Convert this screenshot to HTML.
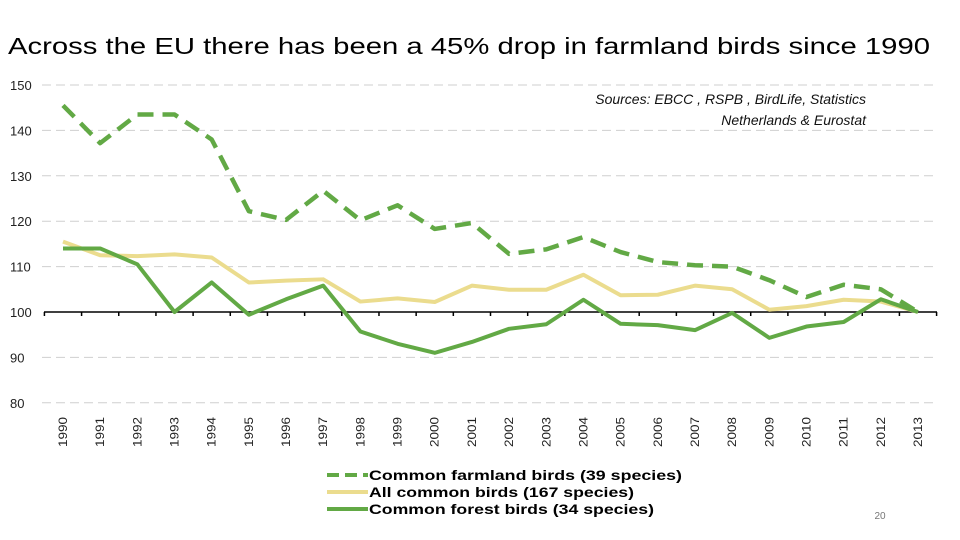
<!DOCTYPE html>
<html><head><meta charset="utf-8"><style>
body{margin:0;background:#fff;width:960px;height:540px;overflow:hidden}
svg{display:block}
</style></head><body>
<svg id="chart" width="960" height="540" xmlns="http://www.w3.org/2000/svg">
<text x="8" y="54" font-family="Liberation Sans, sans-serif" font-size="23" textLength="922" lengthAdjust="spacingAndGlyphs" fill="#000">Across the EU there has been a 45% drop in farmland birds since 1990</text>
<g id="grid"></g><g id="yticks"></g><g id="xticks"></g><g id="series"></g>
<text x="866" y="104" text-anchor="end" font-family="Liberation Sans, sans-serif" font-style="italic" font-size="14" fill="#111">Sources: EBCC , RSPB , BirdLife, Statistics</text>
<text x="866" y="125" text-anchor="end" font-family="Liberation Sans, sans-serif" font-style="italic" font-size="14" fill="#111">Netherlands &amp; Eurostat</text>
<g>
<line x1="327" y1="475" x2="368" y2="475" stroke="#62a945" stroke-width="4" stroke-dasharray="12,6"/>
<text x="369" y="480" font-family="Liberation Sans, sans-serif" font-weight="bold" font-size="14" textLength="313" lengthAdjust="spacingAndGlyphs">Common farmland birds (39 species)</text>
<line x1="327" y1="492" x2="368" y2="492" stroke="#ebdc8e" stroke-width="4"/>
<text x="369" y="497" font-family="Liberation Sans, sans-serif" font-weight="bold" font-size="14" textLength="265" lengthAdjust="spacingAndGlyphs">All common birds (167 species)</text>
<line x1="327" y1="509" x2="368" y2="509" stroke="#62a945" stroke-width="4"/>
<text x="369" y="514" font-family="Liberation Sans, sans-serif" font-weight="bold" font-size="14" textLength="285" lengthAdjust="spacingAndGlyphs">Common forest birds (34 species)</text>
</g>
<text x="880" y="519" text-anchor="middle" font-family="Liberation Sans, sans-serif" font-size="10" fill="#777">20</text>
</svg>
<script>
const years=[1990,1991,1992,1993,1994,1995,1996,1997,1998,1999,2000,2001,2002,2003,2004,2005,2006,2007,2008,2009,2010,2011,2012,2013];
const farmland=[145.5,137.2,143.5,143.5,138,122.2,120.3,126.7,120.2,123.5,118.3,119.6,112.8,113.8,116.5,113.2,111,110.3,110,107,103.3,106,105,100];
const allBirds=[115.5,112.5,112.3,112.7,112,106.5,106.9,107.2,102.3,103,102.2,105.8,104.9,104.9,108.2,103.7,103.8,105.8,105,100.5,101.3,102.7,102.3,100];
const forest=[114,114,110.5,100,106.5,99.4,102.8,105.8,95.7,93,91,93.4,96.3,97.3,102.7,97.4,97.1,96,99.8,94.3,96.8,97.8,102.8,100];
const yTicks=[80,90,100,110,120,130,140,150];
const NS='http://www.w3.org/2000/svg';
const y=v=>312-(v-100)*4.54;
const x=i=>63+i*(918-63)/(years.length-1);
const step=(918-63)/(years.length-1);
function mk(tag,attrs,parent){const e=document.createElementNS(NS,tag);for(const k in attrs)e.setAttribute(k,attrs[k]);document.getElementById(parent).appendChild(e);return e;}
yTicks.forEach(v=>{
 if(v!==100){const l=mk('line',{x1:42,x2:936,y1:y(v),y2:y(v),stroke:'#cfcfcf','stroke-width':1,'stroke-dasharray':'9,5'},'grid');
 
 }
 const t=mk('text',{x:10,y:y(v)+5,'font-family':'Liberation Sans, sans-serif','font-size':13,fill:'#222'},'yticks');
 t.textContent=v;
 
 
});
const ax=mk('line',{x1:44,x2:937,y1:y(100),y2:y(100),stroke:'#000','stroke-width':1.5},'grid');


for(let i=0;i<=years.length;i++){const tx=x(i)-step/2;
 const tk=mk('line',{x1:tx,x2:tx,y1:y(100),y2:y(100)+4,stroke:'#000','stroke-width':1.5},'grid');
 
 }
years.forEach((yr,i)=>{
 const t=mk('text',{transform:`translate(${x(i)+4},447) rotate(-90)`,'font-family':'Liberation Sans, sans-serif','font-size':12,textLength:30,lengthAdjust:'spacingAndGlyphs',fill:'#222'},'xticks');
 t.textContent=yr;
 
 
});
function line(data,color,dash,name){
 const p=mk('polyline',{points:data.map((v,i)=>x(i)+','+y(v)).join(' '),fill:'none',stroke:color,'stroke-width':dash?4.5:4,'stroke-linejoin':'round'},'series');
 if(dash)p.setAttribute('stroke-dasharray',dash);
 
 
}
line(allBirds,'#ebdc8e',null,'line-all-common-birds');
line(forest,'#62a945',null,'line-common-forest-birds');
line(farmland,'#62a945','16,9','line-common-farmland-birds');
</script>
</body></html>
